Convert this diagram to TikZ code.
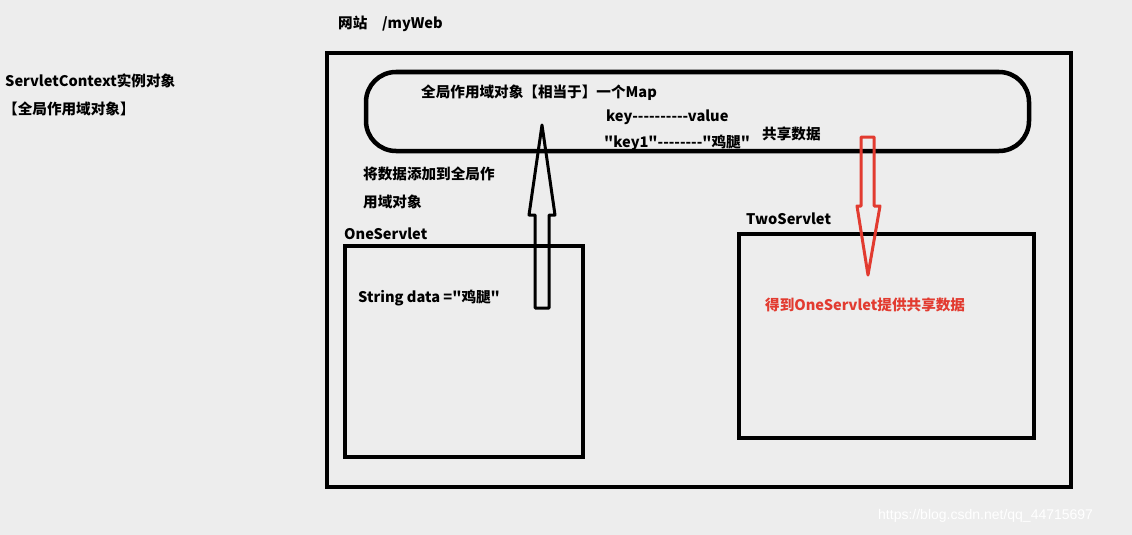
\documentclass[tikz,border=0pt]{standalone}
\usepackage{fontspec}
\setmainfont{Noto Sans CJK SC}[Ligatures=TeXOff]
\newfontfamily\wmfont{Liberation Sans}
\usepackage{xcolor}
\usetikzlibrary{positioning,calc}
\definecolor{bgGray}{HTML}{EDEDED}
\definecolor{arrRed}{HTML}{E23B30}
\tikzset{
  lbl/.style={anchor=west,inner sep=0pt,font=\bfseries\fontsize{14.6}{16}\selectfont},
  thickbox/.style={draw=black,line width=3.8pt},
}

\begin{document}
\begin{tikzpicture}[x=1pt,y=-1pt]
\fill[bgGray] (0,0) rectangle (1132,535);
\useasboundingbox (0,0) rectangle (1132,535);
% web site
\node[lbl] (site) at (338,24) {网站\quad/myWeb};
\draw[thickbox] (327,53) rectangle (1071,487);
% left note
\node[lbl] (ctx) at (5,81) {ServletContext实例对象};
\node[lbl] (ctx2) at (3,109) {【全局作用域对象】};
% global scope object
\draw[black,line width=4.5pt,rounded corners=30pt] (366,72) rectangle (1029,151);
\node[lbl] (map) at (421,93) {全局作用域对象【相当于】一个Map};
\node[lbl] (kv) at (606,117) {key----------value};
\node[lbl] (kv1) at (604,143) {"key1"--------"鸡腿"};
\node[lbl] (share) at (762,134) {共享数据};
% servlets
\node[lbl] (add1) at (363,174) {将数据添加到全局作};
\node[lbl] (add2) at (363,202) {用域对象};
\node[lbl] (one) at (344,234) {OneServlet};
\draw[thickbox] (345,246) rectangle (583,457);
\node[lbl] (data) at (358,298) {String data ="鸡腿"};
\node[lbl] (two) at (746,219) {TwoServlet};
\draw[thickbox] (739,234) rectangle (1034,438);
\node[lbl,text=arrRed] (get) at (765,305) {得到OneServlet提供共享数据};
% block arrows
\draw[black,line width=3pt,line join=round] (535,308) -- (535,215) -- (529,215) -- (542,125)
  -- (555,215) -- (549,215) -- (549,308) -- cycle;
\draw[arrRed,line width=3pt,line join=round] (861,137) -- (874,137) -- (874,206) -- (880,206)
  -- (868,275) -- (857,206) -- (861,206) -- cycle;
% watermark
\node[anchor=west,inner sep=0pt,text=white,font=\wmfont\fontsize{14}{16}\selectfont] (wm) at (878,516) {https://blog.csdn.net/qq\_44715697};
\end{tikzpicture}
\end{document}
